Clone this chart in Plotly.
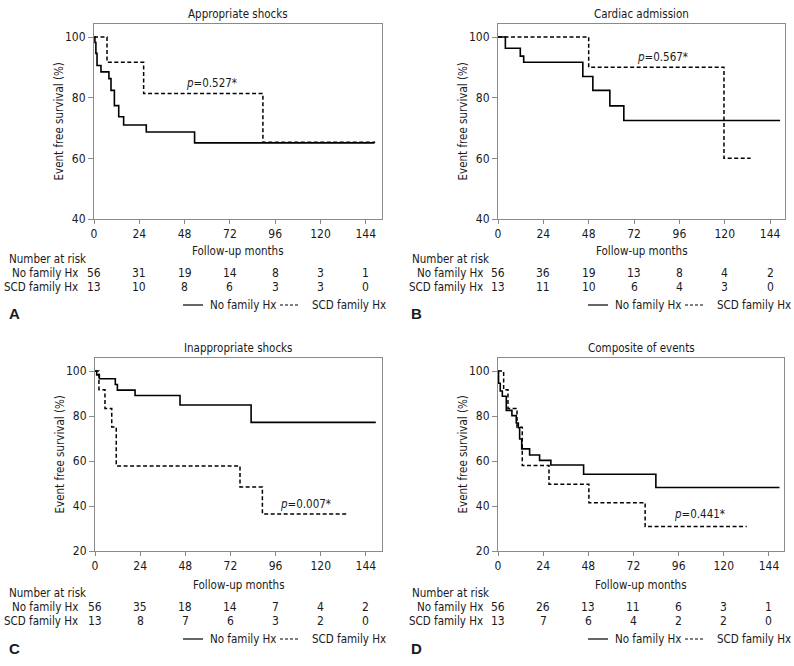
import plotly.graph_objects as go

W, H = 794, 666
FONT = "DejaVu Sans Condensed, Liberation Sans Narrow, Arial Narrow, sans-serif"
FS = 11.5
TXT = "#1a1a1a"
FRAME = "#8a8a8a"

# --- data ---
titles = ["Appropriate shocks", "Cardiac admission", "Inappropriate shocks", "Composite of events"]
letters = ["A", "B", "C", "D"]
pvals = ["0.527", "0.567", "0.007", "0.441"]
p_pos = [(62, 85), (87, 93.3), (112, 40.7), (107, 36.6)]  # (month, survival) of p label

risk_ticks = [0, 24, 48, 72, 96, 120, 144]

# panel A
a_no_t = [0, 0.5, 1.0, 1.6, 3.7, 7.9, 9.0, 10.8, 13.1, 15.7, 27.7, 53.3, 148.6]
a_no_s = [100, 98.2, 94.6, 90.6, 88.5, 86.3, 82.4, 77.4, 73.7, 71.0, 68.7, 65.1, 65.1]
a_scd_t = [0, 6.9, 26.3, 89.5, 149.0]
a_scd_s = [100, 91.7, 81.4, 65.3, 65.3]
a_risk_no = [56, 31, 19, 14, 8, 3, 1]
a_risk_scd = [13, 10, 8, 6, 3, 3, 0]

# panel B
b_no_t = [0, 3.9, 11.8, 13.6, 44.9, 50.2, 59.2, 66.6, 149.3]
b_no_s = [100, 96.3, 93.7, 91.7, 87.0, 82.4, 77.3, 72.5, 72.5]
b_scd_t = [0, 48.0, 119.6, 133.7]
b_scd_s = [100, 90.0, 60.0, 60.0]
b_risk_no = [56, 36, 19, 13, 8, 4, 2]
b_risk_scd = [13, 11, 10, 6, 4, 3, 0]

# panel C
c_no_t = [0, 0.9, 2.3, 10.8, 11.9, 21.3, 45.2, 83.0, 149.3]
c_no_s = [100, 98.3, 96.6, 94.0, 91.5, 89.1, 84.9, 77.2, 77.2]
c_scd_t = [0, 2.1, 5.3, 8.9, 11.3, 77.1, 89.0, 133.9]
c_scd_s = [100, 91.7, 83.4, 75.1, 57.8, 48.5, 36.5, 36.5]
c_risk_no = [56, 35, 18, 14, 7, 4, 2]
c_risk_scd = [13, 8, 7, 6, 3, 2, 0]

# panel D
d_no_t = [0, 0.3, 1.2, 2.3, 4.4, 7.4, 9.7, 10.8, 11.5, 12.6, 16.8, 22.1, 28.1, 45.5, 83.9, 149.6]
d_no_s = [100, 94.6, 91.1, 88.8, 82.5, 80.2, 76.9, 74.8, 69.8, 65.4, 62.7, 60.3, 58.2, 54.1, 48.2, 48.2]
d_scd_t = [0, 3.0, 5.3, 10.1, 12.9, 27.1, 48.3, 78.2, 132.2]
d_scd_s = [100, 91.7, 83.4, 75.0, 58.0, 49.7, 41.5, 30.9, 30.9]
d_risk_no = [56, 26, 13, 11, 6, 3, 1]
d_risk_scd = [13, 7, 6, 4, 2, 2, 0]

curves = [
    (a_no_t, a_no_s, a_scd_t, a_scd_s, a_risk_no, a_risk_scd),
    (b_no_t, b_no_s, b_scd_t, b_scd_s, b_risk_no, b_risk_scd),
    (c_no_t, c_no_s, c_scd_t, c_scd_s, c_risk_no, c_risk_scd),
    (d_no_t, d_no_s, d_scd_t, d_scd_s, d_risk_no, d_risk_scd),
]

# --- layout geometry in pixels (left, right, top, bottom of plot frame) ---
frames = [(94, 382, 24, 219), (498, 785, 24, 219), (95, 382, 358, 551), (498, 784, 358, 551)]
xmax = [152.6, 151.9, 152.6, 152.0]
yranges = [[40, 104.3], [40, 104.3], [20, 105.8], [20, 105.8]]
yticks = [[40, 60, 80, 100], [40, 60, 80, 100], [20, 40, 60, 80, 100], [20, 40, 60, 80, 100]]


def px(x):
    return x / W


def py(y):
    return 1 - y / H


def label(text, x, y, xref="paper", yref="paper", xanchor="center", size=FS, **kw):
    return dict(text=text, x=x, y=y, xref=xref, yref=yref, xanchor=xanchor, yanchor="middle",
                showarrow=False, font=dict(family=kw.pop("family", FONT), size=size, color=TXT), **kw)


fig = go.Figure()
annotations = []
shapes = []

for i in range(4):
    no_t, no_s, scd_t, scd_s, r_no, r_scd = curves[i]
    sfx = "" if i == 0 else str(i + 1)
    xa, ya = "x" + sfx, "y" + sfx
    L, R, T, B = frames[i]
    left_col = i % 2 == 0

    fig.add_trace(go.Scatter(x=no_t, y=no_s, mode="lines", line=dict(color="black", width=1.6, shape="hv"),
                             name="No family Hx", showlegend=False, xaxis=xa, yaxis=ya))
    fig.add_trace(go.Scatter(x=scd_t, y=scd_s, mode="lines",
                             line=dict(color="black", width=1.5, shape="hv", dash="4px,2.5px"),
                             name="SCD family Hx", showlegend=False, xaxis=xa, yaxis=ya))

    fig.update_layout(**{
        "xaxis" + sfx: dict(domain=[px(L), px(R)], range=[0, xmax[i]], anchor=ya, tickvals=risk_ticks,
                            showline=True, mirror=True, linecolor=FRAME, linewidth=1, ticks="outside",
                            ticklen=4, tickcolor=FRAME, showgrid=False, zeroline=False, automargin=False,
                            tickfont=dict(family=FONT, size=12, color=TXT)),
        "yaxis" + sfx: dict(domain=[py(B), py(T)], range=yranges[i], anchor=xa, tickvals=yticks[i],
                            showline=True, mirror=True, linecolor=FRAME, linewidth=1, ticks="outside",
                            ticklen=5, tickcolor=FRAME, showgrid=False, zeroline=False, automargin=False,
                            tickfont=dict(family=FONT, size=12, color=TXT)),
    })

    cx = (L + R) / 2
    top_off = 0 if i < 2 else 334
    annotations.append(label(titles[i], px(cx), py(T - 10)))
    annotations.append(label("Event free survival (%)", px(L - 36), py((T + B) / 2), textangle=-90))
    annotations.append(label("Follow-up months", px(cx), py(251 + top_off)))
    annotations.append(label("<i>p</i>=" + pvals[i] + "*", p_pos[i][0], p_pos[i][1], xref=xa, yref=ya))

    # number at risk table
    lab_left = 7 if left_col else 410
    lab_right = 80 if left_col else 485
    annotations.append(label("Number at risk", px(lab_left), py(259 + top_off), xanchor="left"))
    for lab, row, yy in (("No family Hx", r_no, 273), ("SCD family Hx", r_scd, 287)):
        annotations.append(label(lab, px(lab_right), py(yy + top_off), xanchor="right"))
        for t, n in zip(risk_ticks, row):
            annotations.append(label(str(n), t, py(yy + top_off), xref=xa, size=12))

    # legend (line samples + labels)
    if left_col:
        s1, t1, s2, t2 = 183, 208, 280, 310
    else:
        s1, t1, s2, t2 = 588, 613, 685, 715
    ly = 305 + top_off
    shapes.append(dict(type="line", xref="paper", yref="paper", x0=px(s1), x1=px(s1 + 20), y0=py(ly), y1=py(ly),
                       line=dict(color="black", width=1.2)))
    shapes.append(dict(type="line", xref="paper", yref="paper", x0=px(s2), x1=px(s2 + 20), y0=py(ly), y1=py(ly),
                       line=dict(color="black", width=1.2, dash="3px,2px")))
    annotations.append(label("No family Hx", px(t1), py(ly), xanchor="left"))
    annotations.append(label("SCD family Hx", px(t2), py(ly), xanchor="left"))

    annotations.append(label("<b>" + letters[i] + "</b>", px(7 if left_col else 409), py(314 + top_off),
                             xanchor="left", size=15, family="Liberation Sans, Arial, sans-serif"))

fig.update_layout(
    width=W, height=H,
    margin=dict(l=0, r=0, t=0, b=0),
    paper_bgcolor="white", plot_bgcolor="white",
    annotations=annotations, shapes=shapes,
    showlegend=False,
)

# page body has a default 8px margin; drop it so the figure sits at the window's corner
fig.write_html("out.html", config={"displayModeBar": False},
               post_script="document.body.style.margin='0px';")
